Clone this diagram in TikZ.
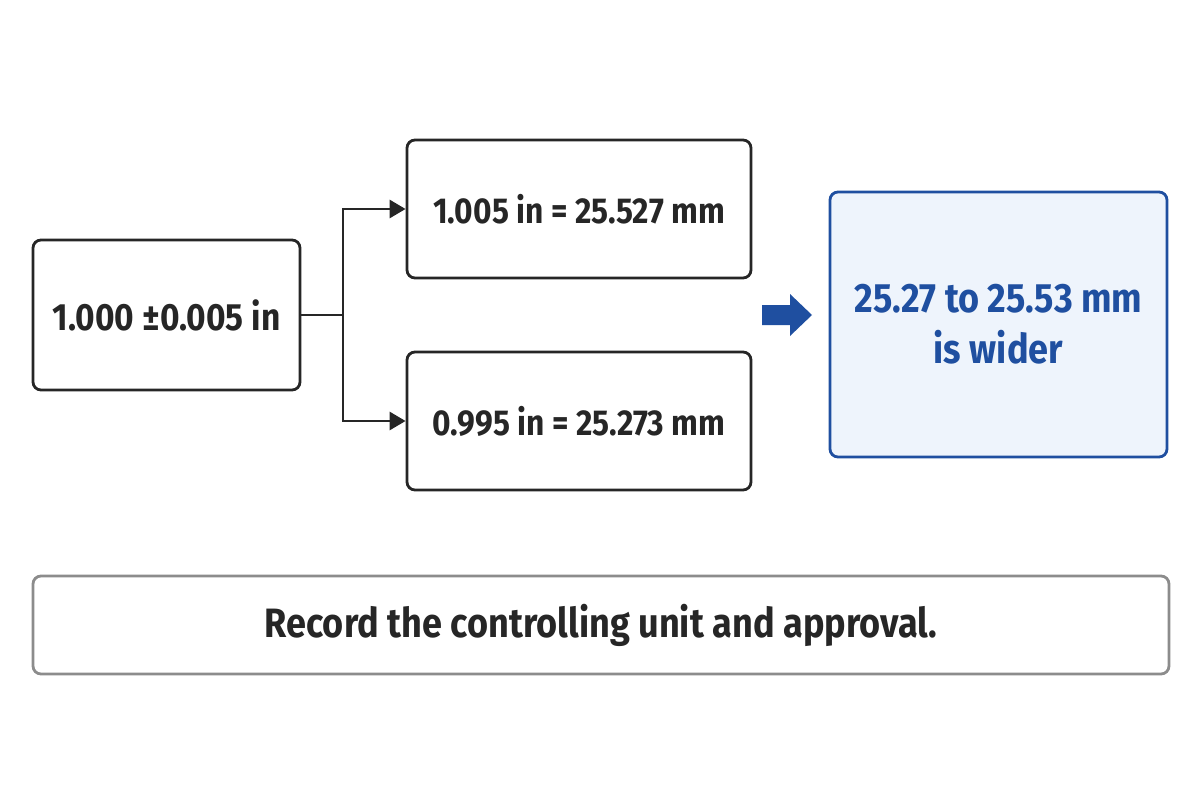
\documentclass[tikz,border=0pt]{standalone}
\usepackage{fontspec}
\setmainfont{Fira Sans}
\usetikzlibrary{arrows.meta}
\definecolor{blu}{HTML}{1F4FA0}
\definecolor{bfill}{HTML}{EEF4FC}
\begin{document}
\begin{tikzpicture}[x=1pt,y=-1pt,
 box/.style={draw=black!85,line width=2.8pt,rounded corners=8pt,inner sep=0pt},
 txt/.style={font=\fontsize{#1}{#1}\selectfont\addfontfeature{FakeStretch=0.88}\bfseries,text=black!85},
 con/.style={line width=2.8pt,draw=black!85}]
\useasboundingbox (0,0) rectangle (1200,800);
\node[box,minimum width=267pt,minimum height=150pt] (l) at (166.5,315) {};
\node[txt=38] at (l) {1.000 ±0.005 in};
\node[box,minimum width=344pt,minimum height=138pt] (t) at (579,209) {};
\node[txt=36] at (t) {1.005 in = 25.527 mm};
\node[box,minimum width=344pt,minimum height=138pt] (b) at (579,421) {};
\node[txt=36] at (b) {0.995 in = 25.273 mm};
\node[box,draw=blu,fill=bfill,minimum width=337pt,minimum height=265pt] (r) at (998.5,324.5) {};
\node[txt=41,text=blu,align=center] at (r) {25.27 to 25.53 mm\\[10pt]is wider};
\node[box,draw=black!45,minimum width=1136pt,minimum height=98pt] (n) at (601,625) {};
\node[txt=41] at (n) {Record the controlling unit and approval.};
\coordinate (j) at (343,315);
\draw[con] (l.east) -- (j);
\draw[con,-{Triangle[length=16pt,width=18pt]}] (j) |- (t.west);
\draw[con,-{Triangle[length=16pt,width=18pt]}] (j) |- (b.west);
\fill[blu] (762,305) -- (790,305) -- (790,294) -- (812,315) -- (790,336) -- (790,325) -- (762,325) -- cycle;
\end{tikzpicture}
\end{document}
